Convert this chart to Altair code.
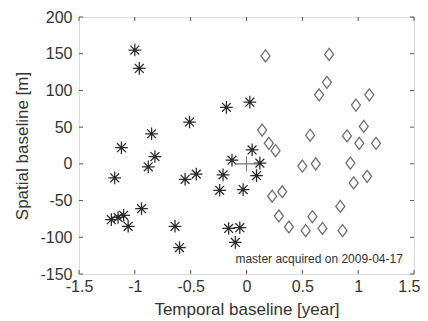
import altair as alt
import pandas as pd

# Asterisk series (before master)
ast_x = [-1.00, -0.96, -0.18, 0.03, -0.51, -0.85, -1.12, -0.82, -0.88, -1.18,
         -0.55, -0.45, -0.13, -0.21, -0.24, -0.03, 0.05, 0.12, 0.09, -1.21,
         -1.15, -1.10, -1.06, -0.94, -0.64, -0.60, -0.16, -0.06, -0.10]
ast_y = [155, 130, 77, 84, 57, 41, 22, 10, -4, -19,
         -21, -14, 5, -15, -36, -35, 19, 1, -16, -76,
         -73, -70, -85, -61, -85, -114, -88, -87, -107]

# Diamond series (after master)
dia_x = [0.17, 0.74, 0.72, 0.65, 1.10, 0.98, 0.14, 0.57, 0.90, 1.05,
         0.20, 0.26, 1.01, 1.16, 0.93, 0.62, 0.50, 1.08, 0.96, 0.23,
         0.32, 0.29, 0.38, 0.59, 0.53, 0.68, 0.84, 0.86]
dia_y = [147, 149, 111, 94, 94, 80, 46, 39, 38, 51,
         28, 18, 28, 28, 1, 0, -3, -17, -26, -44,
         -38, -71, -86, -72, -91, -88, -58, -91]

master_x = [0.0]
master_y = [0.0]

x_ticks = [-1.5, -1.0, -0.5, 0.0, 0.5, 1.0, 1.5]
y_ticks = [-150, -100, -50, 0, 50, 100, 150, 200]

note_text = ["master acquired on 2009-04-17"]
note_x = [1.40]
note_y = [-135]

W, H = 335, 257
FONT = "Liberation Sans"
LAB = "replace(format(datum.value, '~g'), '\u2212', '-')"

xs = alt.Scale(domain=[-1.5, 1.5], nice=False, zero=False)
ys = alt.Scale(domain=[-150, 200], nice=False, zero=False)

xax = alt.Axis(values=x_ticks, labelExpr=LAB, grid=False, ticks=False, domain=False,
               labelFlush=False, labelOverlap=False, tickCount=7,
               labelAlign={"condition": {"test": "datum.value >= 1.5", "value": "right"}, "value": "center"},
               labelOffset={"condition": {"test": "datum.value >= 1.5", "value": 6}, "value": 0},
               labelFont=FONT, labelFontSize=16, labelColor="#333", labelPadding=4,
               title="Temporal baseline [year]", titleFont=FONT, titleFontSize=17,
               titleFontWeight="normal", titleColor="#333", titlePadding=7)
yax = alt.Axis(values=y_ticks, labelExpr=LAB, grid=False, ticks=False, domain=False,
               labelFlush=False, labelOverlap=False, tickCount=8,
               labelFont=FONT, labelFontSize=16, labelColor="#333", labelPadding=7,
               title="Spatial baseline [m]", titleFont=FONT, titleFontSize=17,
               titleFontWeight="normal", titleColor="#333", titlePadding=8)

ast_df = pd.DataFrame({"x": ast_x, "y": ast_y})
dia_df = pd.DataFrame({"x": dia_x, "y": dia_y})
mst_df = pd.DataFrame({"x": master_x, "y": master_y})
xt_df = pd.DataFrame({"t": x_ticks})
yt_df = pd.DataFrame({"t": y_ticks})
note_df = pd.DataFrame({"x": note_x, "y": note_y, "label": note_text})

ASTER = "M-1,0L1,0M0,-1L0,1M-0.7,-0.7L0.7,0.7M-0.7,0.7L0.7,-0.7"
DIAM = "M0,-1L0.75,0L0,1L-0.75,0Z"
PLUS = "M-1,0L1,0M0,-0.7L0,0.7"

X = lambda f: alt.X(f, scale=xs, axis=xax)
Y = lambda f: alt.Y(f, scale=ys, axis=yax)

ast = alt.Chart(ast_df).mark_point(shape=ASTER, filled=False, size=160, stroke="#2a2a2a",
                                   strokeWidth=1.25, opacity=1).encode(x=X("x:Q"), y=Y("y:Q"))
dia = alt.Chart(dia_df).mark_point(shape=DIAM, filled=False, size=144, stroke="#707070",
                                   strokeWidth=1.3, opacity=1).encode(x=X("x:Q"), y=Y("y:Q"))
mst = alt.Chart(mst_df).mark_point(shape=PLUS, filled=False, size=484, stroke="#777",
                                   strokeWidth=1.1, opacity=1).encode(x=X("x:Q"), y=Y("y:Q"))

tk = dict(color="#555", strokeWidth=1)
xb = alt.Chart(xt_df).mark_rule(**tk).encode(x=X("t:Q"), y=alt.value(H), y2=alt.value(H - 4))
xtop = alt.Chart(xt_df).mark_rule(**tk).encode(x=X("t:Q"), y=alt.value(0), y2=alt.value(4))
yl = alt.Chart(yt_df).mark_rule(**tk).encode(y=Y("t:Q"), x=alt.value(0), x2=alt.value(4))
yr = alt.Chart(yt_df).mark_rule(**tk).encode(y=Y("t:Q"), x=alt.value(W), x2=alt.value(W - 4))

note = alt.Chart(note_df).mark_text(align="right", baseline="alphabetic", font=FONT,
                                    fontSize=12, color="#333").encode(
    x=X("x:Q"), y=Y("y:Q"), text="label:N")

chart = alt.layer(ast, dia, mst, xb, xtop, yl, yr, note).properties(
    width=W, height=H,
    autosize=alt.AutoSizeParams(type="none"),
    padding={"left": 71, "top": 9, "right": 6, "bottom": 45},
).configure_view(stroke="#7a7a7a", strokeWidth=1.5).configure(background="white")

chart.save("out.html", embed_options={"renderer": "svg", "actions": False})
